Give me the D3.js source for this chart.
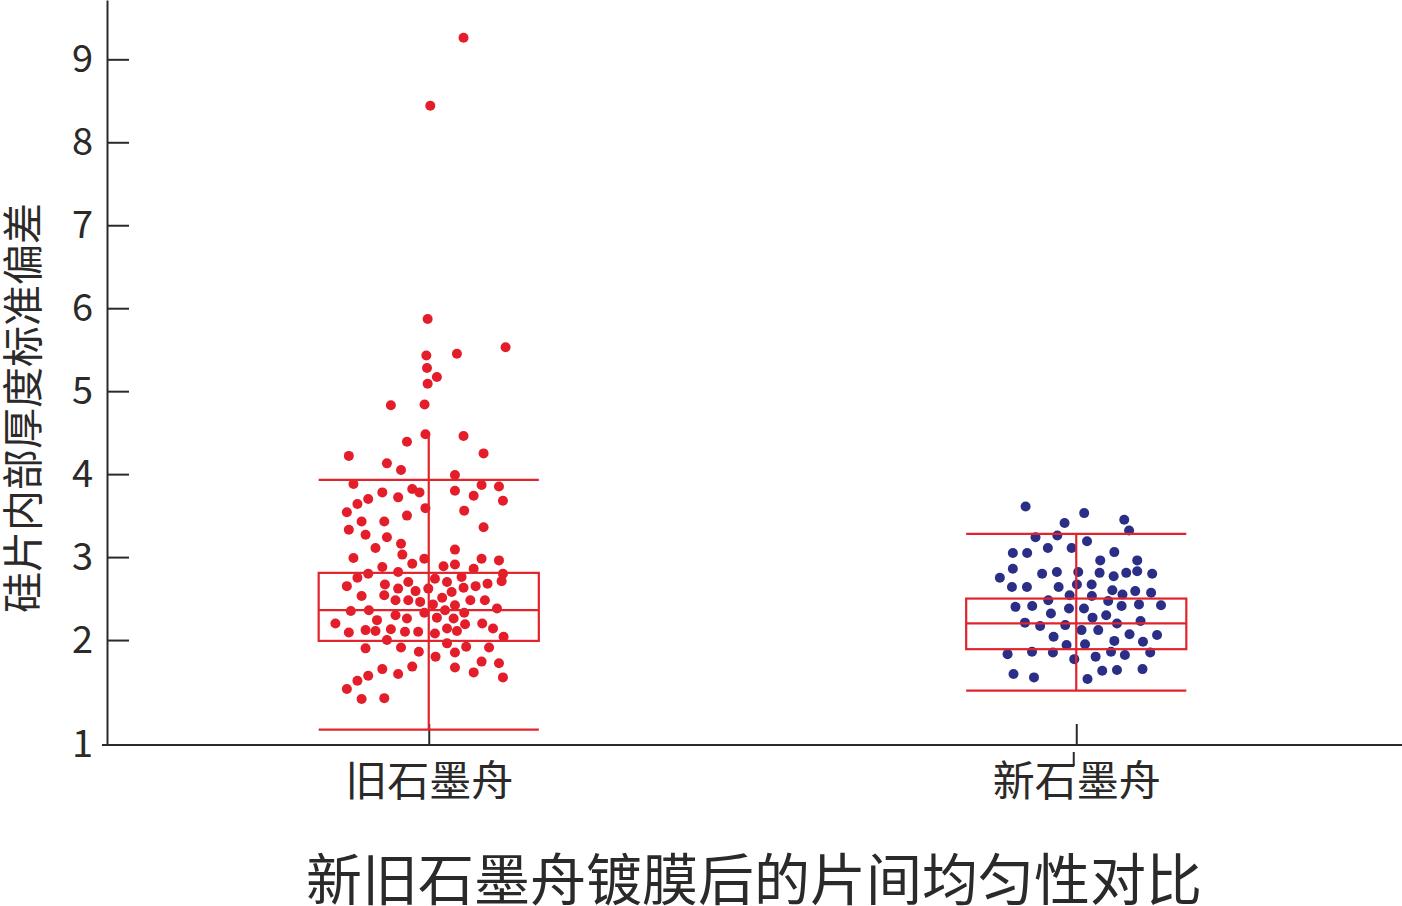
<!DOCTYPE html>
<html>
<head>
<meta charset="utf-8">
<script src="https://cdn.jsdelivr.net/npm/d3@7"></script>
<style>
  html, body { margin: 0; padding: 0; background: #fff; }
  svg { display: block; }
  text { font-family: "Noto Sans CJK SC", "Noto Sans", sans-serif; fill: #2b2a29; }
</style>
</head>
<body>
<div id="chart"></div>
<script>
// categories and labels
const categories = ['旧石墨舟', '新石墨舟'];
const yTicks = [2, 3, 4, 5, 6, 7, 8, 9];
const baseLabel = '1';
const yLabel = '硅片内部厚度标准偏差';
const title = '新旧石墨舟镀膜后的片间均匀性对比';

// old boat: values and horizontal jitter (in box widths)
const oldValues = [
  9.26, 8.44, 5.87, 5.45, 5.53, 5.43, 5.28, 5.17, 5.09, 4.83, 4.84, 4.48, 4.46, 4.39, 4.25, 4.22,
  4.13, 4.05, 3.99, 3.88, 3.87, 3.85, 3.82, 3.78, 3.78, 3.80, 3.70, 3.72, 3.74, 3.68, 3.64, 3.54,
  3.59, 3.56, 3.50, 3.43, 3.43, 3.36, 3.33, 3.27, 3.24, 3.11, 3.16, 3.03, 3.09, 2.99, 2.98, 2.98,
  2.96, 2.92, 2.88, 2.89, 2.91, 2.86, 2.80, 2.82, 2.75, 2.74, 2.70, 2.76, 2.80, 2.71, 2.65, 2.67,
  2.70, 2.62, 2.62, 2.59, 2.63, 2.65, 2.68, 2.53, 2.54, 2.58, 2.48, 2.48, 2.46, 2.51, 2.43, 2.42,
  2.48, 2.48, 2.35, 2.36, 2.33, 2.36, 2.33, 2.38, 2.20, 2.24, 2.30, 2.26, 2.27, 2.26, 2.09, 2.12,
  2.11, 2.13, 2.10, 2.10, 2.08, 2.14, 2.11, 2.19, 2.20, 2.14, 2.04, 2.00, 1.90, 1.91, 1.96, 1.92,
  1.91, 1.86, 1.85, 1.80, 1.68, 1.65, 1.59, 1.67, 1.61, 1.74, 1.72, 1.55, 1.57, 1.51, 1.41, 1.29,
  1.30
];
const oldJitter = [
  0.158, 0.007, -0.005, 0.128, 0.349, -0.011, -0.008, 0.037, -0.005, -0.172, -0.019, -0.015, 0.158, -0.099, 0.249, -0.363,
  -0.190, -0.126, 0.119, -0.342, 0.240, 0.319, -0.075, -0.042, -0.211, 0.119, -0.275, -0.139, 0.204, 0.337, -0.324, -0.372,
  -0.015, 0.161, -0.099, -0.305, -0.202, 0.249, -0.363, -0.287, -0.190, -0.242, -0.126, -0.120, 0.119, -0.342, -0.020, 0.240,
  0.319, -0.075, -0.211, 0.067, 0.119, 0.204, -0.275, -0.139, -0.324, 0.028, 0.083, 0.149, 0.337, 0.331, -0.372, -0.199,
  -0.093, -0.139, -0.002, -0.060, 0.158, 0.213, 0.267, -0.305, -0.202, 0.104, -0.151, -0.093, -0.039, 0.061, 0.019, 0.119,
  0.189, 0.255, -0.354, -0.272, -0.020, 0.074, 0.161, 0.310, -0.424, -0.235, -0.151, -0.099, 0.037, 0.113, -0.363, -0.287,
  -0.242, -0.172, -0.108, -0.048, 0.028, 0.083, 0.128, 0.165, 0.243, 0.292, 0.340, -0.190, -0.287, -0.126, 0.083, 0.170,
  0.274, -0.045, 0.119, 0.031, -0.075, -0.211, -0.139, 0.119, 0.204, 0.240, 0.319, 0.337, -0.275, -0.324, -0.372, -0.305,
  -0.202
];

// new boat
const newValues = [
  3.61, 3.53, 3.45, 3.41, 3.32, 3.24, 3.26, 3.19, 3.05, 3.05, 3.11, 3.11, 3.06, 2.96, 2.96, 2.86,
  2.75, 2.80, 2.82, 2.82, 2.81, 2.77, 2.81, 2.83, 2.80, 2.64, 2.64, 2.64, 2.67, 2.67, 2.60, 2.55,
  2.59, 2.57, 2.54, 2.53, 2.48, 2.47, 2.40, 2.41, 2.38, 2.38, 2.41, 2.43, 2.42, 2.32, 2.30, 2.27,
  2.21, 2.17, 2.18, 2.12, 2.12, 2.20, 2.23, 2.04, 2.07, 2.06, 1.99, 1.98, 1.94, 1.95, 1.83, 1.86,
  1.85, 1.77, 1.80, 1.86, 1.82, 1.85, 1.59, 1.55, 1.53, 1.63, 1.64, 1.65
];
const newJitter = [
  -0.230, 0.036, 0.218, -0.053, 0.240, -0.185, -0.086, 0.049, -0.288, -0.223, -0.129, -0.021, 0.173, 0.109, 0.277, -0.288,
  -0.347, -0.155, -0.088, 0.009, 0.106, 0.170, 0.227, 0.277, 0.345, -0.292, -0.224, -0.080, 0.003, 0.070, 0.164, 0.210,
  0.268, 0.340, -0.030, 0.071, -0.127, 0.145, -0.276, -0.200, -0.033, 0.035, 0.206, 0.285, 0.385, -0.115, 0.136, 0.074,
  -0.233, -0.164, -0.050, 0.024, 0.100, 0.185, 0.292, -0.103, 0.242, 0.367, 0.173, 0.303, -0.044, 0.040, -0.312, -0.201,
  -0.106, -0.009, 0.088, 0.158, 0.221, 0.336, -0.285, -0.192, 0.051, 0.118, 0.185, 0.301
];

// box statistics per category
const whiskerLow = [0.92, 1.39];
const q1 = [1.99, 1.89];
const median = [2.36, 2.20];
const q3 = [2.81, 2.50];
const whiskerHigh = [3.93, 3.28];
const stemTop = [4.48, 3.28];
const outerTickCats = ['新石墨舟'];

const pointColors = ['#e31e2a', '#2b2e86'];

function drawChart() {
  const W = 1402, H = 906;
  const AXIS_COLOR = '#2b2a29';
  const BOX_COLOR = '#e1242c';

  const svg = d3.select('#chart').append('svg')
    .attr('width', W)
    .attr('height', H);

  const x = d3.scalePoint()
    .domain(categories)
    .range([105, 1400])
    .padding(0.5);
  const boxW = x.step() * 0.34;

  const y = d3.scaleLinear()
    .domain([0.735, 9.715])
    .range([745, 0]);

  // y axis
  const gy = svg.append('g')
    .attr('transform', 'translate(107,0)')
    .call(d3.axisLeft(y).tickValues(yTicks).tickFormat(d3.format('d'))
      .tickSizeInner(-22).tickSizeOuter(0).tickPadding(14));
  gy.select('.domain').attr('stroke', AXIS_COLOR).attr('stroke-width', 2);
  gy.selectAll('.tick line').attr('stroke', AXIS_COLOR).attr('stroke-width', 2);
  gy.selectAll('.tick text')
    .attr('font-size', 38)
    .attr('fill', AXIS_COLOR)
    .style('font-family', '"Noto Sans CJK SC", sans-serif');

  svg.append('text')
    .attr('x', 107 - 14)
    .attr('y', y.range()[0])
    .attr('dy', '0.32em')
    .attr('text-anchor', 'end')
    .attr('font-size', 38)
    .text(baseLabel);

  // x axis
  const gx = svg.append('g')
    .attr('transform', 'translate(0,745)')
    .call(d3.axisBottom(x).tickSizeInner(-21).tickSizeOuter(0).tickPadding(26));
  gx.select('.domain').remove();
  gx.append('line')
    .attr('x1', 102).attr('x2', W)
    .attr('stroke', AXIS_COLOR).attr('stroke-width', 2);
  gx.selectAll('.tick line').attr('stroke', AXIS_COLOR).attr('stroke-width', 2);
  gx.selectAll('.tick text')
    .attr('font-size', 42)
    .attr('fill', AXIS_COLOR)
    .attr('dy', '0.6em')
    .style('font-family', '"Noto Sans CJK SC", sans-serif');
  gx.selectAll('.tick')
    .filter(d => outerTickCats.includes(d))
    .append('line')
    .attr('x1', -3).attr('x2', -3)
    .attr('y1', 7).attr('y2', 21)
    .attr('stroke', AXIS_COLOR).attr('stroke-width', 2);

  // points
  const series = [
    { cat: categories[0], values: oldValues, jitter: oldJitter, color: pointColors[0] },
    { cat: categories[1], values: newValues, jitter: newJitter, color: pointColors[1] }
  ];
  series.forEach(s => {
    svg.append('g')
      .selectAll('circle')
      .data(s.values)
      .join('circle')
        .attr('cx', (d, i) => x(s.cat) + s.jitter[i] * boxW)
        .attr('cy', d => y(d))
        .attr('r', 5)
        .attr('fill', s.color);
  });

  // boxes
  const boxes = categories.map((c, i) => ({
    cat: c, lo: whiskerLow[i], q1: q1[i], med: median[i], q3: q3[i], hi: whiskerHigh[i], top: stemTop[i]
  }));
  const gb = svg.append('g')
    .attr('fill', 'none')
    .attr('stroke', BOX_COLOR)
    .attr('stroke-width', 2.2);
  boxes.forEach(b => {
    const cx = x(b.cat);
    gb.append('line')
      .attr('x1', cx).attr('x2', cx)
      .attr('y1', y(b.top)).attr('y2', y(b.lo));
    gb.append('rect')
      .attr('x', cx - boxW / 2)
      .attr('y', y(b.q3))
      .attr('width', boxW)
      .attr('height', y(b.q1) - y(b.q3));
    [b.lo, b.med, b.hi].forEach(v => {
      gb.append('line')
        .attr('x1', cx - boxW / 2).attr('x2', cx + boxW / 2)
        .attr('y1', y(v)).attr('y2', y(v));
    });
  });

  // y label
  svg.append('text')
    .attr('transform', 'translate(20,408) rotate(-90)')
    .attr('text-anchor', 'middle')
    .attr('dominant-baseline', 'central')
    .attr('font-size', 41)
    .text(yLabel);

  // title
  svg.append('text')
    .attr('x', 754)
    .attr('y', 875)
    .attr('text-anchor', 'middle')
    .attr('dominant-baseline', 'central')
    .attr('font-size', 56)
    .text(title);
}

drawChart();
</script>
</body>
</html>
